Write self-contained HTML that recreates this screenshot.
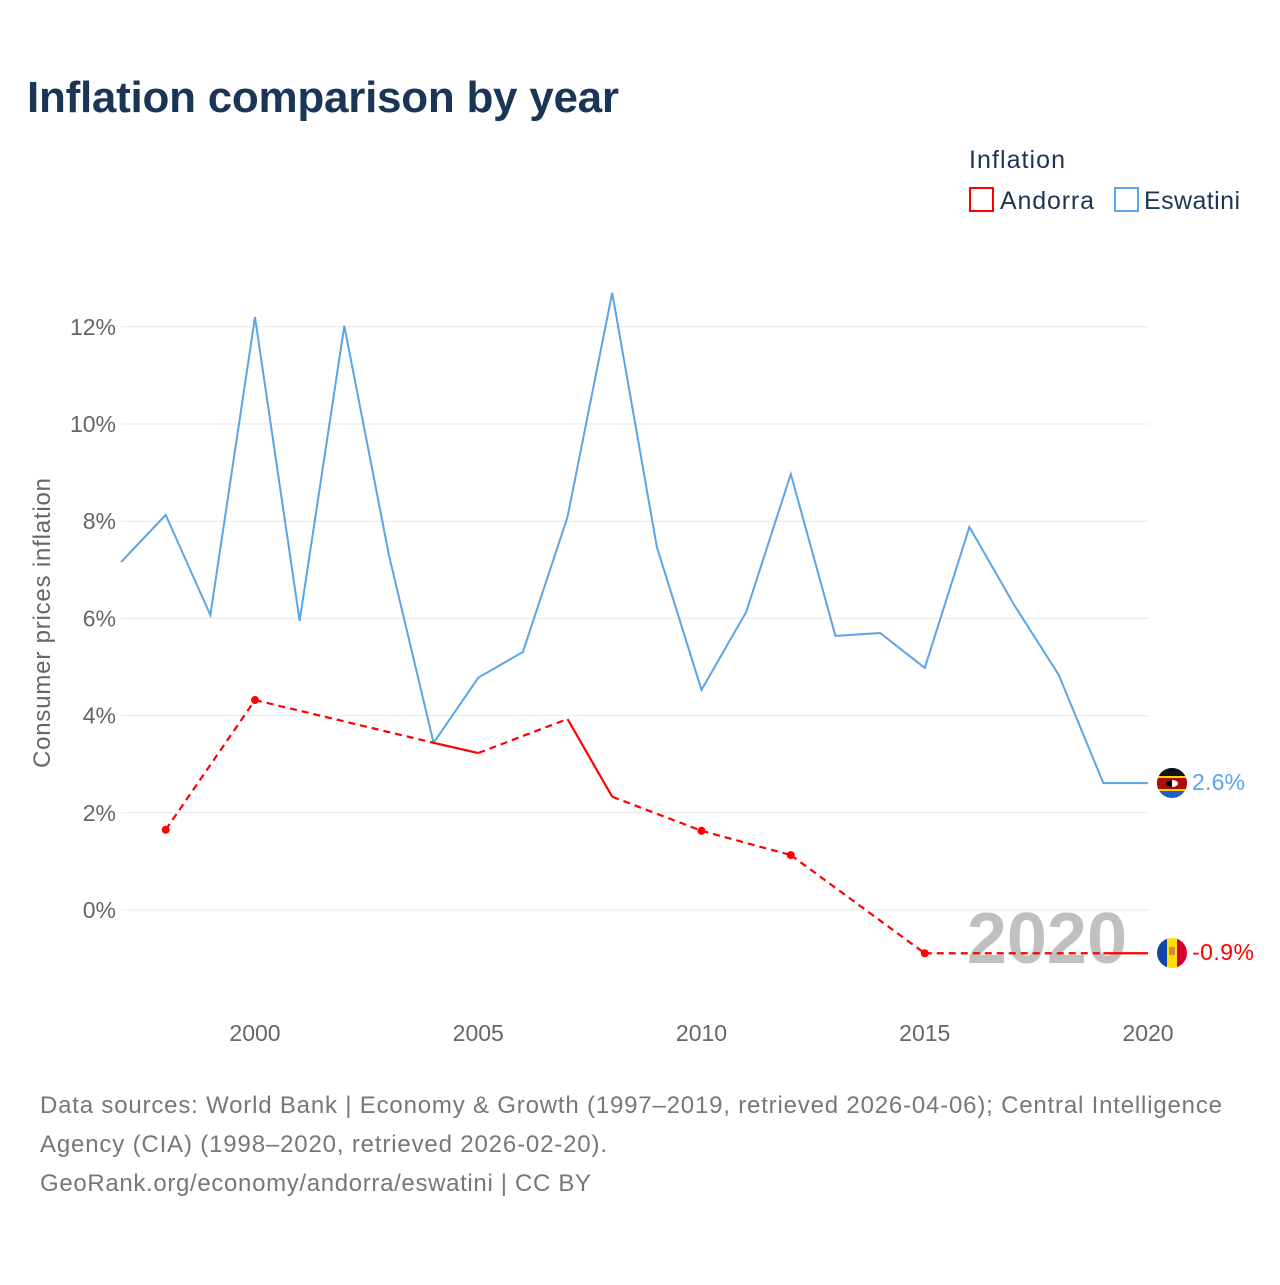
<!DOCTYPE html>
<html><head><meta charset="utf-8"><style>
body{margin:0;background:#fff;font-family:"Liberation Sans",sans-serif;}
</style></head><body>
<svg id="chart" width="1280" height="1280" xmlns="http://www.w3.org/2000/svg">
<text x="27" y="112" font-size="44" font-weight="bold" fill="#1b3557" textLength="592">Inflation comparison by year</text>
<text x="969" y="168" font-size="25" fill="#1b3557" textLength="96">Inflation</text>
<g><rect x="970" y="188" width="23" height="23" fill="none" stroke="#ff0000" stroke-width="2"/><text x="1000" y="209" font-size="25" fill="#1b3557" textLength="94">Andorra</text></g>
<g><rect x="1115" y="188" width="23" height="23" fill="none" stroke="#5aa5e6" stroke-width="2"/><text x="1144" y="209" font-size="25" fill="#1b3557" textLength="96">Eswatini</text></g>
<g id="grid"></g>
<text x="1127" y="963" font-size="72" font-weight="bold" fill="#c0c0c0" text-anchor="end">2020</text>
<g id="series"></g>
<text transform="translate(50,623) rotate(-90)" font-size="24" fill="#666" text-anchor="middle" textLength="290">Consumer prices inflation</text>
<g><clipPath id="c1"><circle cx="1172" cy="783" r="15"/></clipPath><g clip-path="url(#c1)"><rect x="1157" y="768" width="30" height="30" fill="#1f5fc7"/><rect x="1157" y="768" width="30" height="8" fill="#111"/><rect x="1157" y="776" width="30" height="2" fill="#ffd500"/><rect x="1157" y="778" width="30" height="11" fill="#b10c0c"/><rect x="1157" y="789" width="30" height="2" fill="#ffd500"/><ellipse cx="1172" cy="783.5" rx="6" ry="3.5" fill="#fff"/><path d="M1166,783.5 A6,3.5 0 0 0 1172,787 L1172,780 A6,3.5 0 0 0 1166,783.5Z" fill="#000"/></g></g>
<g><clipPath id="c2"><circle cx="1172" cy="953" r="15"/></clipPath><g clip-path="url(#c2)"><rect x="1157" y="938" width="10" height="30" fill="#1046a8"/><rect x="1167" y="938" width="10" height="30" fill="#fedf00"/><rect x="1177" y="938" width="10" height="30" fill="#d50032"/><rect x="1169" y="947" width="6" height="8" fill="#d58a3a"/></g></g>
<text x="1192" y="790" font-size="23" fill="#5aa5e6" textLength="53">2.6%</text>
<text x="1192" y="960" font-size="23" fill="#ff0000" textLength="62">-0.9%</text>
<text x="40" y="1113" font-size="24" fill="#777" textLength="1182">Data sources: World Bank | Economy &amp; Growth (1997–2019, retrieved 2026-04-06); Central Intelligence</text>
<text x="40" y="1152" font-size="24" fill="#777" textLength="567">Agency (CIA) (1998–2020, retrieved 2026-02-20).</text>
<text x="40" y="1191" font-size="24" fill="#777" textLength="551">GeoRank.org/economy/andorra/eswatini | CC BY</text>
</svg>
<script>
const yTicks=[0,2,4,6,8,10,12];
const xTicks=[2000,2005,2010,2015,2020];
const eswYears=[1997,1998,1999,2000,2001,2002,2003,2004,2005,2006,2007,2008,2009,2010,2011,2012,2013,2014,2015,2016,2017,2018,2019,2020];
const eswValues=[7.16,8.13,6.07,12.2,5.95,12.02,7.3,3.44,4.78,5.31,8.09,12.7,7.47,4.53,6.13,8.97,5.64,5.7,4.98,7.88,6.28,4.84,2.61,2.61];
const andYears=[1998,2000,2004,2005,2007,2008,2010,2012,2015,2019,2020];
const andValues=[1.65,4.32,3.44,3.23,3.93,2.33,1.63,1.13,-0.89,-0.89,-0.89];
const NS="http://www.w3.org/2000/svg";
const xS=y=>255+(y-2000)*44.65;
const yS=v=>910-v*48.6;
const grid=document.getElementById('grid'),ser=document.getElementById('series');
function mk(tag,at,parent){const e=document.createElementNS(NS,tag);for(const k in at)e.setAttribute(k,at[k]);parent.appendChild(e);return e;}
yTicks.forEach(t=>{
  const l=mk('line',{x1:121,x2:1148,y1:yS(t),y2:yS(t),stroke:'#e8e8e8','stroke-width':1},grid);
  
  
  const tx=mk('text',{x:116,y:yS(t)+8,'font-size':23,fill:'#666','text-anchor':'end'},grid);
  tx.textContent=t+'%';
  
  
});
xTicks.forEach(t=>{
  const tx=mk('text',{x:xS(t),y:1041,'font-size':23,fill:'#666','text-anchor':'middle'},grid);
  tx.textContent=t;
  
  
});
const ep=mk('polyline',{points:eswYears.map((y,i)=>xS(y)+','+yS(eswValues[i])).join(' '),fill:'none',stroke:'#5aa5e6','stroke-width':2},ser);


for(let i=0;i<andYears.length-1;i++){
  const gap=andYears[i+1]-andYears[i]>1;
  const s=mk('line',{x1:xS(andYears[i]),y1:yS(andValues[i]),x2:xS(andYears[i+1]),y2:yS(andValues[i+1]),stroke:'#ff0000','stroke-width':2.2,'stroke-dasharray':gap?'7,5':'none'},ser);
  
  
}
andYears.forEach((y,i)=>{
  const prev=i>0&&y-andYears[i-1]===1, next=i<andYears.length-1&&andYears[i+1]-y===1;
  if(!prev&&!next){
    const c=mk('circle',{cx:xS(y),cy:yS(andValues[i]),r:4,fill:'#ff0000'},ser);
    
    
  }
});
</script>
</body></html>
